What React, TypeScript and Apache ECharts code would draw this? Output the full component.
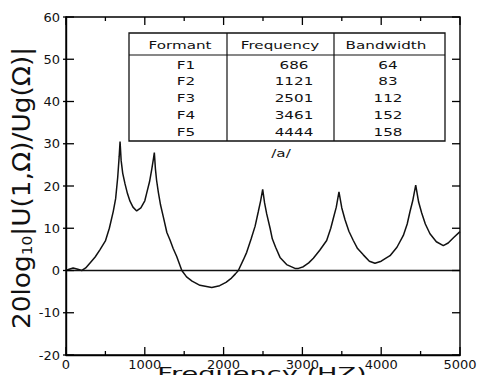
import React, { useEffect, useRef } from "react";
import * as echarts from "echarts";

// Curve: frequency (Hz) and level (dB)
const freqHz = [
  0, 40, 90, 150, 200, 250, 305, 370, 430, 500, 550, 600, 630, 656, 675, 686,
  700, 720, 749, 780, 812, 850, 897, 950, 1000, 1024, 1060, 1087, 1110, 1121,
  1135, 1150, 1172, 1200, 1235, 1280, 1320, 1360, 1405, 1470, 1530, 1600, 1700,
  1850, 1950, 2030, 2100, 2150, 2187, 2250, 2293, 2350, 2400, 2440, 2470, 2496,
  2520, 2547, 2590, 2618, 2660, 2716, 2800, 2906, 2950, 3012, 3080, 3139, 3220,
  3308, 3360, 3392, 3430, 3464, 3500, 3541, 3590, 3646, 3700, 3773, 3850, 3921,
  4000, 4050, 4112, 4200, 4281, 4330, 4365, 4400, 4438, 4475, 4514, 4560, 4619,
  4700, 4788, 4850, 4920, 5000,
];
const levelDb = [
  0, 0.3, 0.6, 0.3, 0.0, 0.6, 1.8, 3.2, 4.9, 7.0, 10.0, 14.0, 17.0, 22.0, 27.0, 30.5,
  26.0, 23.0, 20.5, 18.2, 16.4, 15.0, 14.1, 14.8, 16.5, 18.3, 21.0, 23.8, 26.5, 27.9,
  24.0, 21.3, 18.5, 15.5, 12.7, 9.0, 7.2, 5.2, 3.3, 0.0, -1.5, -2.5, -3.5,
  -4.0, -3.6, -2.8, -1.8, -0.8, 0.0, 2.5, 4.3, 7.5, 10.5, 13.9, 16.5, 19.2,
  16.0, 13.4, 10.0, 7.5, 5.5, 3.1, 1.4, 0.5, 0.5, 0.9, 1.8, 2.9, 4.8,
  7.1, 10.0, 12.3, 15.0, 18.6, 14.8, 12.0, 9.3, 7.1, 5.2, 3.7, 2.2, 1.7,
  2.2, 2.8, 3.5, 5.5, 8.3, 11.0, 13.9, 16.5, 20.2, 16.2, 13.6, 11.0, 8.7,
  6.8, 5.9, 6.5, 7.8, 9.2,
];

// Axis tick values
const xMajorTicks = [0, 1000, 2000, 3000, 4000, 5000];
const xMinorTicks = [500, 1500, 2500, 3500, 4500];
const yMajorTicks = [-20, -10, 0, 10, 20, 30, 40, 50, 60];

// Table contents
const tableHeaders = ["Formant", "Frequency", "Bandwidth"];
const formants = ["F1", "F2", "F3", "F4", "F5"];
const formantFreqs = ["686", "1121", "2501", "3461", "4444"];
const bandwidths = ["64", "83", "112", "152", "158"];
const vowelLabel = "/a/";

const xTitle = "Frequency (HZ)";

const FONT = '"DejaVu Sans", sans-serif';
const X_MIN = 0, X_MAX = 5000, Y_MIN = -20, Y_MAX = 60;
const G_LEFT = 66, G_RIGHT = 26, G_TOP = 17, G_BOTTOM = 28;
const W = 486, H = 383;

export default function App() {
  const ref = useRef<HTMLDivElement>(null);

  useEffect(() => {
    if (!ref.current) return;
    const chart = echarts.init(ref.current, undefined, { renderer: "svg" });

    const data = freqHz.map((f, i) => [f, levelDb[i]]);

    // Scale helpers matching the grid box (used only for axis tick decoration)
    const gx0 = G_LEFT, gx1 = W - G_RIGHT, gy0 = G_TOP, gy1 = H - G_BOTTOM;
    const sx = (v: number) => gx0 + ((v - X_MIN) / (X_MAX - X_MIN)) * (gx1 - gx0);
    const sy = (v: number) => gy1 - ((v - Y_MIN) / (Y_MAX - Y_MIN)) * (gy1 - gy0);

    const tw = 1.3;
    const vTick = (x: number, y: number, len: number) => ({
      type: "rect",
      shape: { x: x - tw / 2, y: len > 0 ? y : y + len, width: tw, height: Math.abs(len) },
      style: { fill: "#000" },
      z: 30,
    });
    const hTick = (x: number, y: number, x2: number) => ({
      type: "rect",
      shape: { x: Math.min(x, x2), y: y - tw / 2, width: Math.abs(x2 - x), height: tw },
      style: { fill: "#000" },
      z: 30,
    });
    const ticks: any[] = [];
    xMajorTicks.forEach((v) => {
      ticks.push(vTick(sx(v), gy1, -8));
      ticks.push(vTick(sx(v), gy0, 8));
    });
    xMinorTicks.forEach((v) => {
      ticks.push(vTick(sx(v), gy1, -4));
      ticks.push(vTick(sx(v), gy0, 4));
    });
    yMajorTicks.forEach((v) => {
      ticks.push(hTick(gx0 - 3, sy(v), gx0 + 8));
      ticks.push(hTick(gx1 - 8, sy(v), gx1));
    });

    // Table geometry
    const tX0 = 129, tX1 = 445, tY0 = 33, tY1 = 141, tHead = 55;
    const colSep = [227, 334];
    const headCenters = [180, 280, 386];
    const cellCenters = [186, 294, 388];
    const rowY = [65, 81.5, 98.5, 115.5, 132];

    const mkText = (text: string, x: number, y: number, size: number, scx: number) => ({
      type: "text",
      x,
      y,
      scaleX: scx,
      style: {
        text,
        font: `${size}px ${FONT}`,
        fill: "#111",
        textAlign: "center",
        textVerticalAlign: "middle",
      },
      z: 10,
    });

    const graphic: any[] = [
      ...ticks,
      {
        type: "rect",
        shape: { x: tX0, y: tY0, width: tX1 - tX0, height: tY1 - tY0 },
        style: { fill: "#fff", stroke: "#111", lineWidth: 1.3 },
        z: 9,
      },
      {
        type: "line",
        shape: { x1: tX0, y1: tHead, x2: tX1, y2: tHead },
        style: { stroke: "#111", lineWidth: 1.2 },
        z: 10,
      },
      ...colSep.map((cx) => ({
        type: "line",
        shape: { x1: cx, y1: tY0, x2: cx, y2: tY1 },
        style: { stroke: "#111", lineWidth: 1.2 },
        z: 10,
      })),
      ...tableHeaders.map((h, i) => mkText(h, headCenters[i], 45, 11, 1.38)),
      ...formants.map((t, i) => mkText(t, cellCenters[0], rowY[i], 11, 1.38)),
      ...formantFreqs.map((t, i) => mkText(t, cellCenters[1], rowY[i], 11, 1.38)),
      ...bandwidths.map((t, i) => mkText(t, cellCenters[2], rowY[i], 11, 1.38)),
      mkText(vowelLabel, 281, 153, 11, 1.38),
      {
        type: "text",
        x: 262,
        y: 373,
        scaleX: 1.7,
        style: {
          text: xTitle,
          font: `16px ${FONT}`,
          fill: "#111",
          textAlign: "center",
          textVerticalAlign: "middle",
        },
      },
      {
        type: "text",
        x: 22,
        y: 188,
        rotation: Math.PI / 2,
        scaleX: 1.1,
        style: {
          text: "20log{s|10}|U(1,Ω)/Ug(Ω)|",
          font: `24px ${FONT}`,
          fill: "#111",
          textAlign: "center",
          textVerticalAlign: "middle",
          rich: {
            s: {
              fontSize: 14,
              fontFamily: FONT,
              fill: "#111",
              padding: [10, 0, 0, 0],
            },
          },
        },
      },
    ];

    const labelStyle = { color: "#111", fontFamily: FONT, fontSize: 13 };
    const fmt = (v: number) => String(v);

    chart.setOption({
      animation: false,
      grid: {
        left: G_LEFT, right: G_RIGHT, top: G_TOP, bottom: G_BOTTOM,
        show: true, borderColor: "#000", borderWidth: 1.4,
      },
      xAxis: {
        type: "value",
        min: X_MIN,
        max: X_MAX,
        interval: 1000,
        axisLine: { show: true, onZero: false, lineStyle: { color: "#000", width: 1.4 } },
        axisTick: { show: false },
        splitLine: { show: false },
        axisLabel: { ...labelStyle, margin: 3, formatter: fmt },
      },
      yAxis: {
        type: "value",
        min: Y_MIN,
        max: Y_MAX,
        interval: 10,
        axisLine: { show: true, onZero: false, lineStyle: { color: "#000", width: 1.4 } },
        axisTick: { show: false },
        splitLine: { show: false },
        axisLabel: { ...labelStyle, margin: 6, formatter: fmt },
      },
      series: [
        {
          type: "line",
          data,
          showSymbol: false,
          symbol: "none",
          smooth: false,
          lineStyle: { color: "#111", width: 1.5 },
          markLine: {
            silent: true,
            symbol: "none",
            label: { show: false },
            lineStyle: { color: "#111", width: 1.4, type: "solid" },
            data: [{ yAxis: 0 }],
          },
        },
      ],
      graphic,
    });

    return () => chart.dispose();
  }, []);

  return <div ref={ref} style={{ width: W, height: H, margin: -8 }} />;
}
